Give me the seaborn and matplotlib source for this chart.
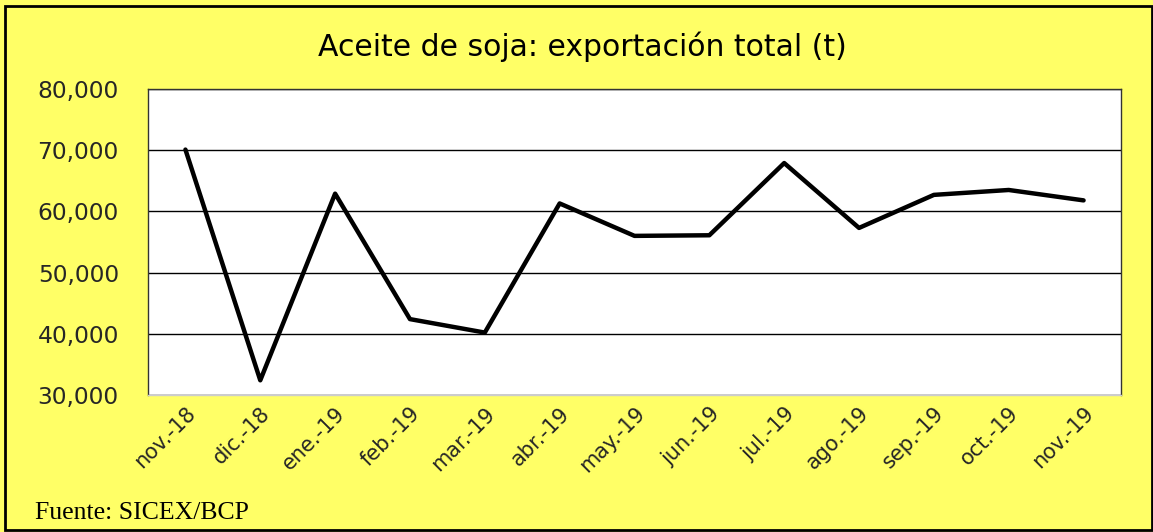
import matplotlib
matplotlib.use("Agg")
import matplotlib.pyplot as plt
import seaborn as sns
import pandas as pd
from matplotlib.patches import Rectangle
from matplotlib.ticker import FuncFormatter

# data
months = ['nov.-18', 'dic.-18', 'ene.-19', 'feb.-19', 'mar.-19', 'abr.-19', 'may.-19',
          'jun.-19', 'jul.-19', 'ago.-19', 'sep.-19', 'oct.-19', 'nov.-19']
exports = [70100, 32400, 62900, 42400, 40200, 61300, 56000,
           56100, 67900, 57300, 62700, 63500, 61800]

df = pd.DataFrame({'mes': months, 'toneladas': exports})

sns.set_style("white")
plt.rcParams['font.family'] = ['DejaVu Sans']

bg = '#FFFF66'
fig = plt.figure(figsize=(11.53, 5.32), dpi=100, facecolor=bg)
ax = fig.add_axes([148 / 1153, 1 - 395 / 532, 973 / 1153, 306 / 532])
ax.set_facecolor('white')

sns.lineplot(data=df, x='mes', y='toneladas', sort=False, color='black', linewidth=3.2, ax=ax)

ax.set_xlim(-0.5, len(months) - 0.5)
ax.set_ylim(30000, 80000)
ax.set_yticks(range(30000, 80001, 10000))
ax.yaxis.set_major_formatter(FuncFormatter(lambda v, p: f'{int(v):,}'))
ax.yaxis.grid(True, color='black', linewidth=1)
ax.xaxis.grid(False)
ax.set_axisbelow(True)
ax.set_xlabel('')
ax.set_ylabel('')

ax.tick_params(axis='y', labelsize=16.8, length=0, pad=21)
ax.tick_params(axis='x', labelsize=15, length=0, pad=6)
plt.setp(ax.get_xticklabels(), rotation=45, ha='right', rotation_mode='anchor')

for side in ['left', 'top', 'right']:
    ax.spines[side].set_color('#333333')
    ax.spines[side].set_linewidth(1)
ax.spines['bottom'].set_color('#cccccc')
ax.spines['bottom'].set_linewidth(1)

fig.text(582 / 1153, 1 - 47 / 532, 'Aceite de soja: exportación total (t)', ha='center', va='center',
         fontsize=21.5, color='black')
fig.text(35 / 1153, 1 - 513 / 532, 'Fuente: SICEX/BCP', ha='left', va='center',
         fontsize=18.5, family=['Liberation Serif', 'DejaVu Serif'], color='black')

# outer frame
fig.patches.append(Rectangle((5 / 1153, 2 / 532), 1 - 6 / 1153, 1 - 8 / 532, transform=fig.transFigure,
                             fill=False, edgecolor='black', linewidth=2))

fig.savefig('out.png', dpi=100, facecolor=bg)
